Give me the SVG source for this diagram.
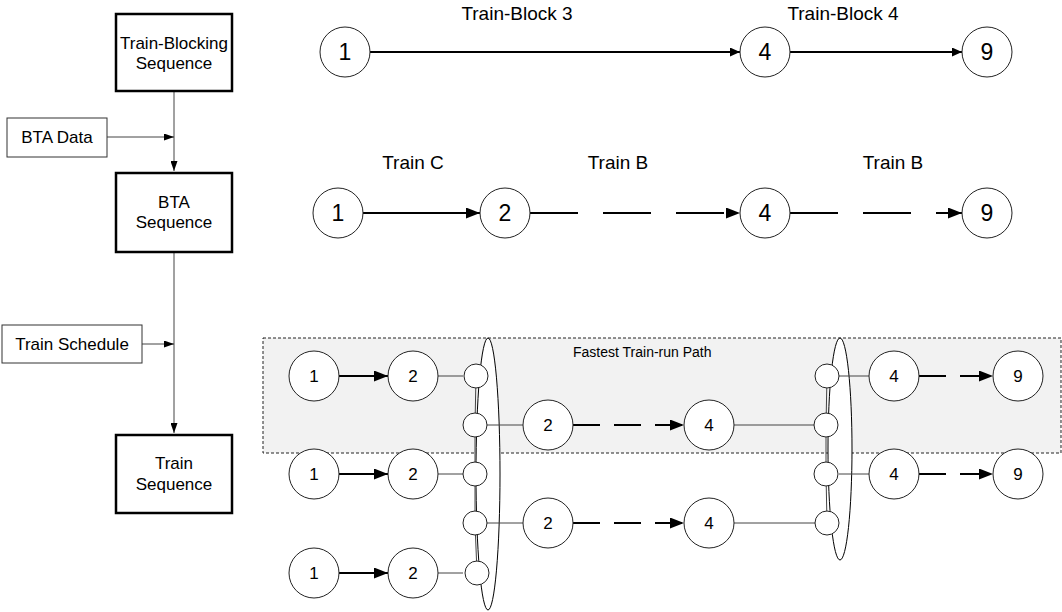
<svg xmlns="http://www.w3.org/2000/svg" width="1062" height="612" viewBox="0 0 1062 612">
<style>
text{font-family:"Liberation Sans",Arial,sans-serif;fill:#000;text-anchor:middle;dominant-baseline:central}
.box{fill:#fff;stroke:#000;stroke-width:2.5}
.ibox{fill:#fff;stroke:#333;stroke-width:1}
.c{fill:#fff;stroke:#222;stroke-width:1}
.sc{fill:#fff;stroke:#222;stroke-width:1}
.thin{stroke:#444;stroke-width:1;fill:none}
.arr{stroke:#000;stroke-width:2;fill:none}
.dash{stroke-dasharray:48 25}
.dash2{stroke-dasharray:27 14}
.lt{font-size:17px}
.big{font-size:23px}
.mid{font-size:19px}
.num{font-size:17px}
</style>
<defs>
<marker id="ah" markerUnits="userSpaceOnUse" markerWidth="14" markerHeight="11" refX="14" refY="5.5" orient="auto"><path d="M0,0 L14,5.5 L0,11 z" fill="#000"/></marker>
<marker id="ahm" markerUnits="userSpaceOnUse" markerWidth="10" markerHeight="9" refX="10" refY="4.5" orient="auto"><path d="M0,0 L10,4.5 L0,9 z" fill="#000"/></marker>
<marker id="ahs" markerUnits="userSpaceOnUse" markerWidth="10" markerHeight="7" refX="10" refY="3.5" orient="auto"><path d="M0,0 L10,3.5 L0,7 z" fill="#000"/></marker>
</defs>

<rect id="fastest" x="263" y="338" width="798" height="115" fill="#f2f2f2" stroke="#222" stroke-width="1" stroke-dasharray="3 2"/>
<text x="573" y="352" style="font-size:14px;text-anchor:start">Fastest Train-run Path</text>

<g id="ellipses">
<ellipse cx="488" cy="474" rx="12" ry="136" fill="#fff" stroke="#000" stroke-width="1"/>
<ellipse cx="840" cy="449" rx="12" ry="111" fill="#fff" stroke="#000" stroke-width="1"/>
</g>

<g id="connectors">
<path class="thin" d="M174,91 V171" marker-end="url(#ahs)"/>
<path class="thin" d="M107,137 H174" marker-end="url(#ahs)"/>
<path class="thin" d="M174,253 V433" marker-end="url(#ahs)"/>
<path class="thin" d="M142,344 H174" marker-end="url(#ahs)"/>

<path class="arr" d="M370,52 H740" marker-end="url(#ahm)" stroke-width="1.5"/>
<path class="arr" d="M790,52 H962" marker-end="url(#ahm)" stroke-width="1.5"/>

<path class="arr" d="M363,213 H480" marker-end="url(#ah)"/>
<path class="arr dash" d="M530,213 H740" marker-end="url(#ah)"/>
<path class="arr dash" d="M790,213 H962" marker-end="url(#ah)"/>

<path class="arr" d="M339,376 H388" marker-end="url(#ah)"/>
<path class="arr" d="M339,474 H388" marker-end="url(#ah)"/>
<path class="arr" d="M339,573 H388" marker-end="url(#ah)"/>
<path class="thin" d="M438,376 H463 M438,474 H463 M438,573 H463"/>
<path class="thin" d="M476,376 L475,425 L475,474 L475,523 L477,573"/>
<path class="thin" d="M487,425 H523 M487,523 H523"/>
<path class="arr dash2" d="M573,425 H684" marker-end="url(#ah)"/>
<path class="arr dash2" d="M573,523 H684" marker-end="url(#ah)"/>
<path class="thin" d="M734,425 H815 M734,523 H815"/>
<path class="thin" d="M827,376 L826,425 L826,474 L827,523"/>
<path class="thin" d="M839,376 H869 M839,474 H869"/>
<path class="arr dash2" d="M919,376 H993" marker-end="url(#ah)"/>
<path class="arr dash2" d="M919,474 H993" marker-end="url(#ah)"/>
</g>

<g id="tbs"><rect class="box" x="116" y="14" width="116" height="77"/><text class="lt" x="174" y="43">Train-Blocking</text><text class="lt" x="174" y="63">Sequence</text></g>
<g id="btadata"><rect class="ibox" x="7" y="118" width="100" height="39"/><text class="lt" x="57" y="137">BTA Data</text></g>
<g id="btaseq"><rect class="box" x="116" y="173" width="116" height="79"/><text class="lt" x="174" y="202">BTA</text><text class="lt" x="174" y="222">Sequence</text></g>
<g id="sched"><rect class="ibox" x="2" y="325" width="140" height="38"/><text class="lt" x="72" y="344">Train Schedule</text></g>
<g id="trainseq"><rect class="box" x="116" y="435" width="116" height="78"/><text class="lt" x="174" y="463">Train</text><text class="lt" x="174" y="484">Sequence</text></g>

<text class="mid" x="517" y="13">Train-Block 3</text>
<text class="mid" x="843" y="13">Train-Block 4</text>
<text class="mid" x="413" y="162">Train C</text>
<text class="mid" x="618" y="162">Train B</text>
<text class="mid" x="893" y="162">Train B</text>

<g id="r1n1"><circle class="c" cx="345" cy="52" r="25"/><text class="big" x="345" y="52">1</text></g>
<g id="r1n4"><circle class="c" cx="765" cy="52" r="25"/><text class="big" x="765" y="52">4</text></g>
<g id="r1n9"><circle class="c" cx="987" cy="52" r="25"/><text class="big" x="987" y="52">9</text></g>

<g id="r2n1"><circle class="c" cx="338" cy="213" r="25"/><text class="big" x="338" y="213">1</text></g>
<g id="r2n2"><circle class="c" cx="505" cy="213" r="25"/><text class="big" x="505" y="213">2</text></g>
<g id="r2n4"><circle class="c" cx="765" cy="213" r="25"/><text class="big" x="765" y="213">4</text></g>
<g id="r2n9"><circle class="c" cx="987" cy="213" r="25"/><text class="big" x="987" y="213">9</text></g>

<g id="a1"><circle class="c" cx="314" cy="376" r="25"/><text class="num" x="314" y="376">1</text></g>
<g id="a2"><circle class="c" cx="413" cy="376" r="25"/><text class="num" x="413" y="376">2</text></g>
<g id="c1"><circle class="c" cx="314" cy="474" r="25"/><text class="num" x="314" y="474">1</text></g>
<g id="c2"><circle class="c" cx="413" cy="474" r="25"/><text class="num" x="413" y="474">2</text></g>
<g id="e1"><circle class="c" cx="314" cy="573" r="25"/><text class="num" x="314" y="573">1</text></g>
<g id="e2"><circle class="c" cx="413" cy="573" r="25"/><text class="num" x="413" y="573">2</text></g>

<g id="ls1"><circle class="sc" cx="476" cy="376" r="12"/></g>
<g id="ls2"><circle class="sc" cx="475" cy="425" r="12"/></g>
<g id="ls3"><circle class="sc" cx="475" cy="474" r="12"/></g>
<g id="ls4"><circle class="sc" cx="475" cy="523" r="12"/></g>
<g id="ls5"><circle class="sc" cx="477" cy="573" r="12"/></g>

<g id="b2"><circle class="c" cx="548" cy="425" r="25"/><text class="num" x="548" y="425">2</text></g>
<g id="b4"><circle class="c" cx="709" cy="425" r="25"/><text class="num" x="709" y="425">4</text></g>
<g id="d2"><circle class="c" cx="548" cy="523" r="25"/><text class="num" x="548" y="523">2</text></g>
<g id="d4"><circle class="c" cx="709" cy="523" r="25"/><text class="num" x="709" y="523">4</text></g>

<g id="rs1"><circle class="sc" cx="827" cy="376" r="12"/></g>
<g id="rs2"><circle class="sc" cx="826" cy="425" r="12"/></g>
<g id="rs3"><circle class="sc" cx="826" cy="474" r="12"/></g>
<g id="rs4"><circle class="sc" cx="827" cy="523" r="12"/></g>

<g id="a4"><circle class="c" cx="894" cy="376" r="25"/><text class="num" x="894" y="376">4</text></g>
<g id="a9"><circle class="c" cx="1018" cy="376" r="25"/><text class="num" x="1018" y="376">9</text></g>
<g id="c4"><circle class="c" cx="894" cy="474" r="25"/><text class="num" x="894" y="474">4</text></g>
<g id="c9"><circle class="c" cx="1018" cy="474" r="25"/><text class="num" x="1018" y="474">9</text></g>
</svg>
